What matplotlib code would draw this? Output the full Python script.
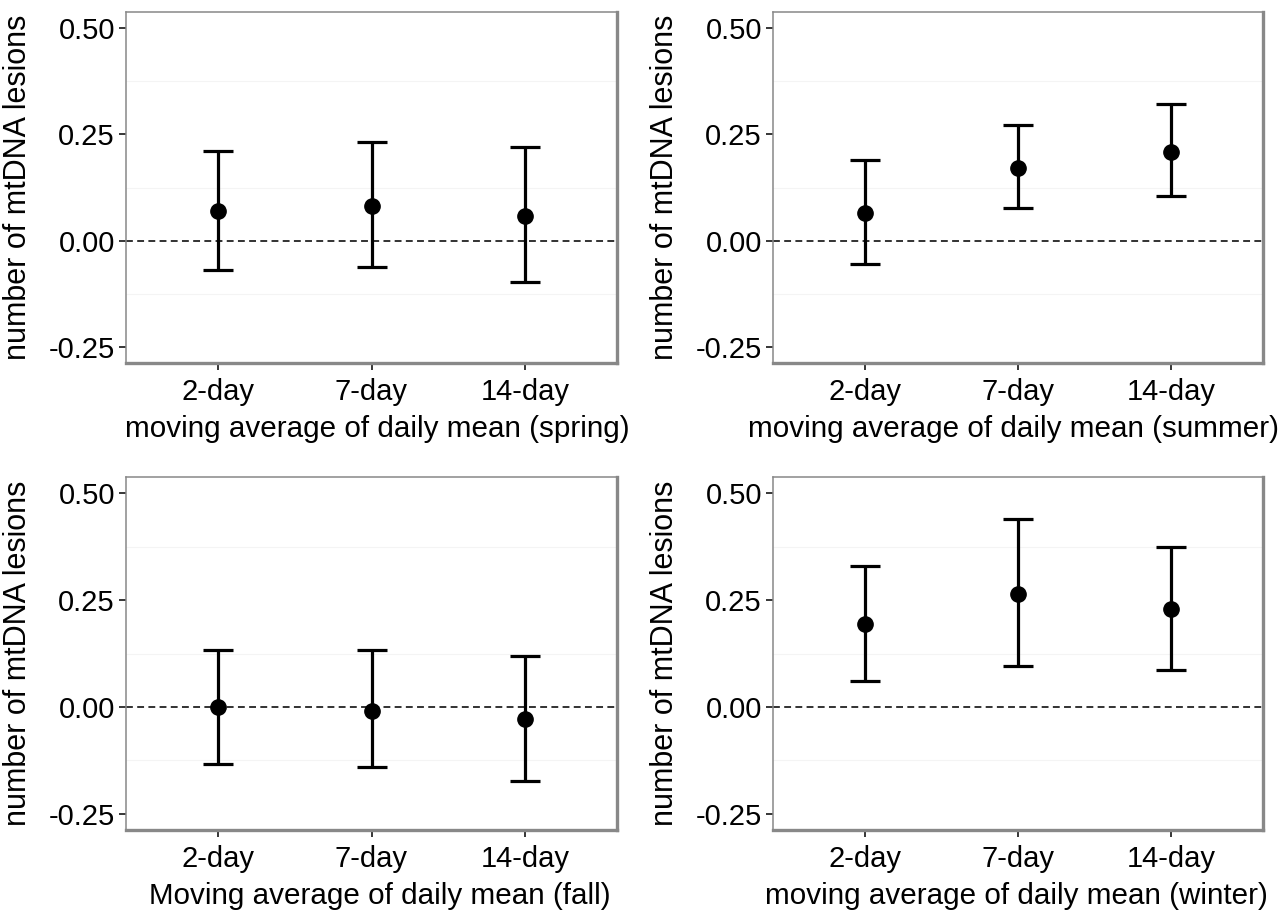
import matplotlib
matplotlib.use("Agg")
import matplotlib.pyplot as plt
import numpy as np

plt.rcParams['font.family'] = ['Liberation Sans', 'DejaVu Sans']

categories = ["2-day", "7-day", "14-day"]
seasons = ["spring", "summer", "fall", "winter"]
xlabels = ["moving average of daily mean (spring)",
           "moving average of daily mean (summer)",
           "Moving average of daily mean (fall)",
           "moving average of daily mean (winter)"]
ylabel = "number of mtDNA lesions"

spring_est = [0.070, 0.082, 0.058]
spring_lo = [-0.070, -0.063, -0.096]
spring_hi = [0.210, 0.231, 0.220]

summer_est = [0.065, 0.170, 0.208]
summer_lo = [-0.054, 0.077, 0.105]
summer_hi = [0.190, 0.273, 0.322]

fall_est = [0.000, -0.009, -0.028]
fall_lo = [-0.133, -0.140, -0.173]
fall_hi = [0.133, 0.133, 0.120]

winter_est = [0.194, 0.264, 0.229]
winter_lo = [0.061, 0.096, 0.086]
winter_hi = [0.330, 0.440, 0.374]

yticks = [-0.25, 0.00, 0.25, 0.50]
ytick_labels = ["-0.25", "0.00", "0.25", "0.50"]

panels = [
    (spring_est, spring_lo, spring_hi),
    (summer_est, summer_lo, summer_hi),
    (fall_est, fall_lo, fall_hi),
    (winter_est, winter_lo, winter_hi),
]

W, H = 1284, 910
fig = plt.figure(figsize=(W / 100, H / 100), dpi=100)

boxes = [
    (126, 12, 617, 363),
    (773, 12, 1263, 363),
    (126, 477, 617, 830),
    (773, 477, 1263, 830),
]
xlabel_x = [0.511, 0.49, 0.517, 0.496]

border = '#888888'
for i, ((est, lo, hi), (x0, y0, x1, y1)) in enumerate(zip(panels, boxes)):
    ax = fig.add_axes([x0 / W, 1 - y1 / H, (x1 - x0) / W, (y1 - y0) / H])
    x = np.arange(1, len(categories) + 1)
    est = np.array(est); lo = np.array(lo); hi = np.array(hi)
    ax.axhline(0, color='#222222', lw=1.3, ls=(0, (3.8, 2.4)), zorder=1)
    for yy in [-0.125, 0.125, 0.375]:
        ax.axhline(yy, color='#f4f4f4', lw=0.8, zorder=0)
    ax.errorbar(x, est, yerr=[est - lo, hi - est], fmt='o', color='black',
                ecolor='black', elinewidth=2.3, capsize=11, capthick=2.3,
                markersize=11, zorder=3)
    ax.set_xlim(0.4, 3.6)
    ax.set_ylim(-0.2875, 0.5375)
    ax.set_xticks(x)
    ax.set_xticklabels(categories)
    ax.set_yticks(yticks)
    ax.set_yticklabels(ytick_labels)
    ax.tick_params(axis='both', labelsize=21, length=5, width=1.1,
                   color='black', labelcolor='black', pad=3)
    ax.tick_params(axis='x', pad=6)
    ax.set_xlabel(xlabels[i], fontsize=21.3, color='black')
    ax.set_ylabel(ylabel, fontsize=22, color='black')
    ax.xaxis.set_label_coords(xlabel_x[i], -0.148)
    ax.yaxis.set_label_coords(-0.19, 0.5)
    for side in ['top', 'left']:
        ax.spines[side].set_color(border)
        ax.spines[side].set_linewidth(1.1)
    for side in ['bottom', 'right']:
        ax.spines[side].set_color(border)
        ax.spines[side].set_linewidth(2.4)

fig.savefig("out.png", dpi=100)
